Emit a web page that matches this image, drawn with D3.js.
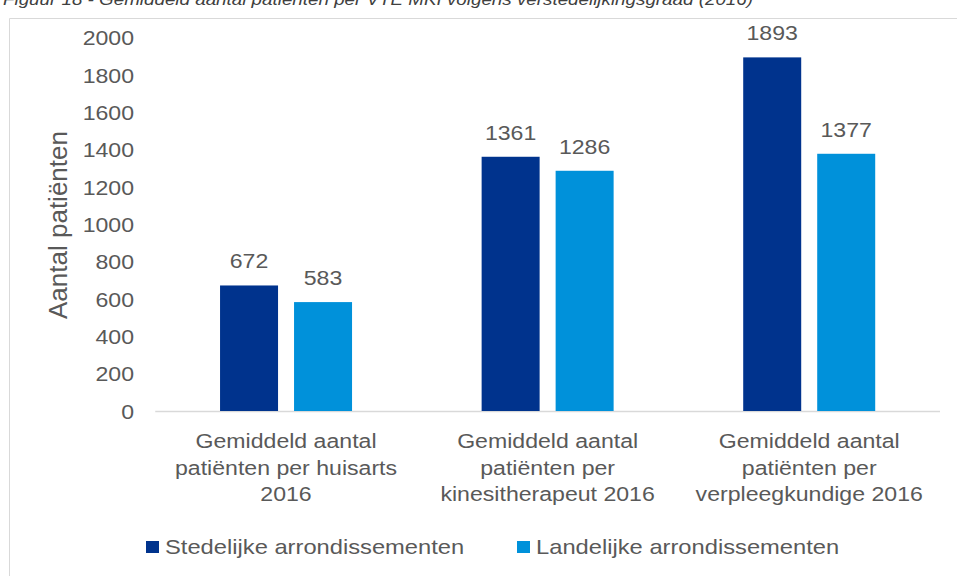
<!DOCTYPE html>
<html><head><meta charset="utf-8">
<script src="https://cdn.jsdelivr.net/npm/d3@7"></script>
<style>
html,body{margin:0;padding:0;background:#fff;}
svg{display:block;font-family:"Liberation Sans",Arial,sans-serif;}
</style></head>
<body><svg id="c" width="957" height="576"></svg>
<script>
const categories = [
  ["Gemiddeld aantal", "patiënten per huisarts", "2016"],
  ["Gemiddeld aantal", "patiënten per", "kinesitherapeut 2016"],
  ["Gemiddeld aantal", "patiënten per", "verpleegkundige 2016"]
];
const seriesNames = ["Stedelijke arrondissementen", "Landelijke arrondissementen"];
const stedelijk = [672, 1361, 1893];
const landelijk = [583, 1286, 1377];
const yTicks = [0, 200, 400, 600, 800, 1000, 1200, 1400, 1600, 1800, 2000];
const colors = ["#00338D", "#0091DA"];
const title = "Figuur 18 - Gemiddeld aantal patiënten per VTE MKI volgens verstedelijkingsgraad (2016)";
const yTitle = "Aantal patiënten";

const svg = d3.select("#c");
const textCol = "#595959";
const seriesVals = [stedelijk, landelijk];

// frame
svg.append("line").attr("x1", 9.5).attr("x2", 957).attr("y1", 18.5).attr("y2", 18.5).attr("stroke", "#d9d9d9");
svg.append("line").attr("x1", 9.5).attr("x2", 9.5).attr("y1", 18.5).attr("y2", 576).attr("stroke", "#d9d9d9");

// title (cut off at top, as in the reference)
svg.append("text").attr("x", 3).attr("y", 5).attr("font-size", 16).attr("font-style", "italic")
  .attr("fill", "#404040").attr("textLength", 750).attr("lengthAdjust", "spacingAndGlyphs").text(title);

const x0 = d3.scaleBand().domain(d3.range(categories.length)).range([155.25, 940]).padding(0);
const groupW = 132;
const x1 = d3.scaleBand().domain(d3.range(seriesNames.length)).range([0, groupW]).paddingInner(16 / 74).paddingOuter(0);
const y = d3.scaleLinear().domain([0, 2000]).range([411, 37.4]);

// y axis
const yAxis = svg.append("g").attr("transform", "translate(156,0)")
  .call(d3.axisLeft(y).tickValues(yTicks).tickSize(0).tickPadding(0).tickFormat(d3.format("d")));
yAxis.select(".domain").remove();
yAxis.selectAll("text").attr("x", null).attr("dy", "0.35em").attr("font-size", 21)
  .attr("font-family", "Liberation Sans, Arial, sans-serif").attr("fill", textCol)
  .attr("transform", "translate(-22,0) scale(1.1,1)");

// x axis line
svg.append("line").attr("x1", x0.range()[0]).attr("x2", x0.range()[1]).attr("y1", y(0) + 0.5).attr("y2", y(0) + 0.5)
  .attr("stroke", "#d9d9d9").attr("stroke-width", 1.5);

// bars
categories.forEach((c, i) => {
  const gx = x0(i) + (x0.bandwidth() - groupW) / 2;
  seriesVals.forEach((vals, s) => {
    const v = vals[i];
    svg.append("rect").attr("x", gx + x1(s)).attr("width", x1.bandwidth())
      .attr("y", y(v)).attr("height", y(0) - y(v)).attr("fill", colors[s]);
    svg.append("text").attr("text-anchor", "middle").attr("font-size", 21).attr("fill", textCol)
      .attr("transform", `translate(${gx + x1(s) + x1.bandwidth() / 2},${y(v) - 17}) scale(1.1,1)`)
      .text(v);
  });
  const t = svg.append("text").attr("text-anchor", "middle").attr("font-size", 21).attr("fill", textCol)
    .attr("transform", `translate(${x0(i) + x0.bandwidth() / 2},448) scale(1.1,1)`);
  c.forEach((line, k) => {
    t.append("tspan").attr("x", 0).attr("y", k * 26.6).text(line);
  });
});

// y title
svg.append("text").attr("text-anchor", "middle").attr("font-size", 26).attr("fill", textCol)
  .attr("transform", "translate(67,225) rotate(-90)").text(yTitle);

// legend
const legX = [146, 517];
seriesNames.forEach((n, s) => {
  svg.append("rect").attr("x", legX[s]).attr("y", 541).attr("width", 13).attr("height", 12).attr("fill", colors[s]);
  svg.append("text").attr("font-size", 21).attr("fill", textCol)
    .attr("transform", `translate(${legX[s] + 19},553.5) scale(1.13,1)`).text(n);
});
</script></body></html>
